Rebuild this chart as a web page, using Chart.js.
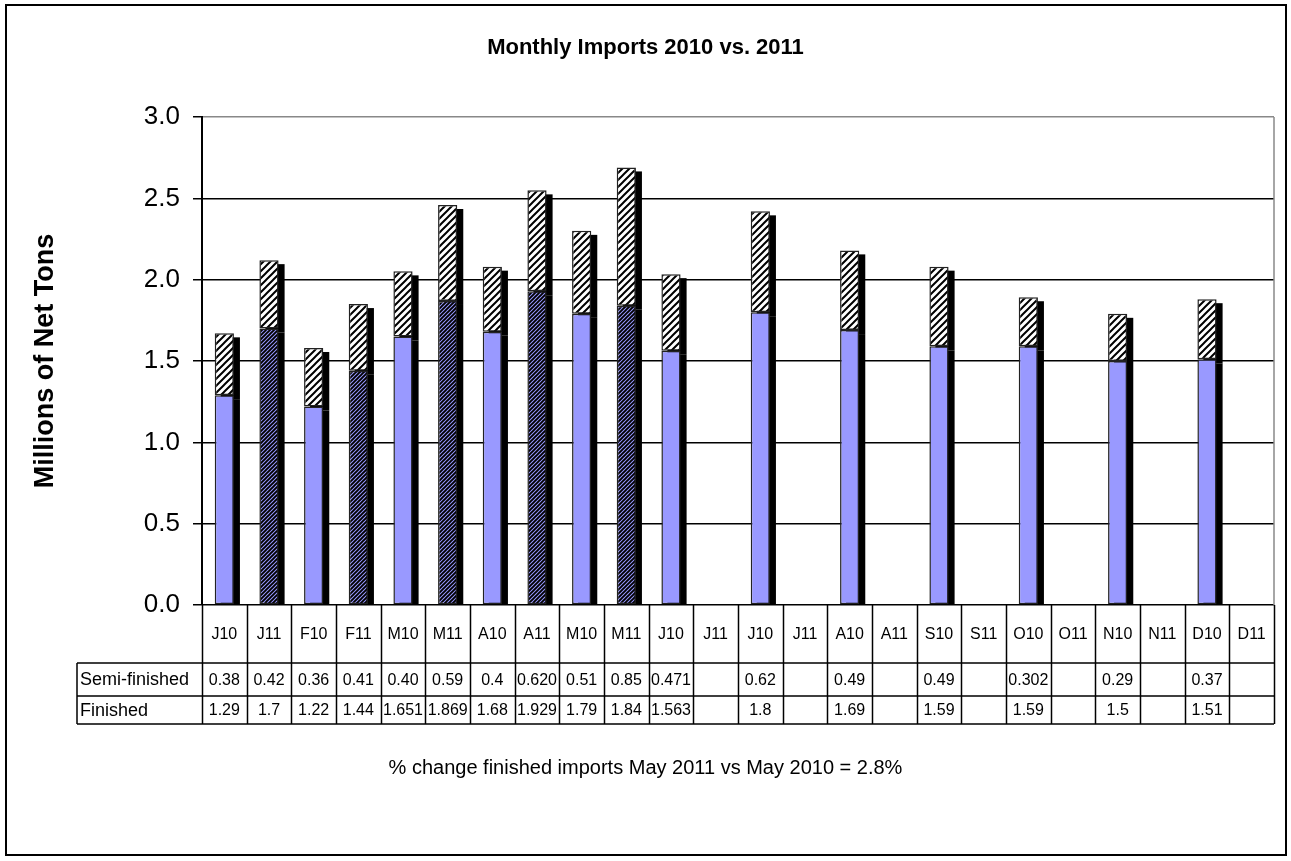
<!DOCTYPE html>
<html>
<head>
<meta charset="utf-8">
<title>Monthly Imports 2010 vs. 2011</title>
<script src="https://cdn.jsdelivr.net/npm/chart.js@4.4.0/dist/chart.umd.min.js"></script>
<style>
  body { margin: 0; background: #fff; }
</style>
</head>
<body>
<canvas id="myChart" width="1291" height="861"></canvas>
<script>
// Month columns, 2010 and 2011 side by side
var categories = ["J10", "J11", "F10", "F11", "M10", "M11", "A10", "A11", "M10", "M11", "J10", "J11",
                  "J10", "J11", "A10", "A11", "S10", "S11", "O10", "O11", "N10", "N11", "D10", "D11"];

// Values as printed in the data table (blank = no data yet)
var semiFinished = ["0.38", "0.42", "0.36", "0.41", "0.40", "0.59", "0.4", "0.620", "0.51", "0.85", "0.471", "",
                    "0.62", "", "0.49", "", "0.49", "", "0.302", "", "0.29", "", "0.37", ""];
var finished = ["1.29", "1.7", "1.22", "1.44", "1.651", "1.869", "1.68", "1.929", "1.79", "1.84", "1.563", "",
                "1.8", "", "1.69", "", "1.59", "", "1.59", "", "1.5", "", "1.51", ""];

var rowNames = ["Semi-finished", "Finished"];

var yMin = 0;
var yMax = 3;
var yStep = 0.5;

var chartTitle = "Monthly Imports 2010 vs. 2011";
var yTitle = "Millions of Net Tons";
var footNote = "% change finished imports May 2011 vs May 2010 = 2.8%";

function toNum(s) {
  return s === "" ? null : parseFloat(s);
}

Chart.defaults.font.family = "'Liberation Sans', Arial, sans-serif";
Chart.defaults.color = "#000";

// hatch patterns
function makeHatch(size, bg, fg, lw) {
  var c = document.createElement("canvas");
  c.width = size;
  c.height = size;
  var g = c.getContext("2d");
  g.fillStyle = bg;
  g.fillRect(0, 0, size, size);
  g.strokeStyle = fg;
  g.lineWidth = lw;
  g.beginPath();
  g.moveTo(-size, size * 2); g.lineTo(size * 2, -size);
  g.moveTo(-size, size); g.lineTo(size, -size);
  g.moveTo(0, size * 2); g.lineTo(size * 2, 0);
  g.stroke();
  return g.createPattern(c, "repeat");
}

var semiHatch = makeHatch(7, "#ffffff", "#000000", 2);
var darkHatch = makeHatch(4, "#9999FF", "#000000", 1.9);

var finishedColors = categories.map(function(c) {
  return c.slice(-2) === "11" ? darkHatch : "#9999FF";
});

// black drop shadow behind every bar
var shadowPlugin = {
  id: "barShadow",
  beforeDatasetsDraw: function(chart) {
    var ctx = chart.ctx, area = chart.chartArea;
    ctx.save();
    ctx.beginPath();
    ctx.rect(area.left, area.top, area.right - area.left, area.bottom - area.top);
    ctx.clip();
    ctx.fillStyle = "#000";
    chart.data.datasets.forEach(function(ds, i) {
      chart.getDatasetMeta(i).data.forEach(function(bar, j) {
        if (ds.data[j] == null) return;
        var p = bar.getProps(["x", "y", "base", "width"], true);
        ctx.fillRect(p.x - p.width / 2 + 6, Math.min(p.y, p.base) + 4, p.width, Math.abs(p.base - p.y));
      });
    });
    ctx.restore();
  }
};

// data table under the x axis + outer frame
var tablePlugin = {
  id: "dataTable",
  afterDraw: function(chart) {
    var ctx = chart.ctx, xs = chart.scales.x, area = chart.chartArea;
    var colW = (xs.right - xs.left) / categories.length;
    var top = area.bottom, r1 = top + 58, r2 = r1 + 33, r3 = r2 + 28;
    var labelLeft = 77;

    ctx.save();
    // plot border (grey)
    ctx.strokeStyle = "#888";
    ctx.lineWidth = 1.5;
    ctx.beginPath();
    ctx.moveTo(area.right, area.top);
    ctx.lineTo(area.right, area.bottom);
    ctx.stroke();

    ctx.strokeStyle = "#000";
    ctx.lineWidth = 1.5;
    ctx.beginPath();
    for (var k = 0; k <= categories.length; k++) {
      var lx = Math.round(xs.left + k * colW) + 0.5;
      ctx.moveTo(lx, top);
      ctx.lineTo(lx, r3);
    }
    ctx.moveTo(labelLeft, r1); ctx.lineTo(xs.right, r1);
    ctx.moveTo(labelLeft, r2); ctx.lineTo(xs.right, r2);
    ctx.moveTo(labelLeft, r3); ctx.lineTo(xs.right, r3);
    ctx.moveTo(labelLeft, r1); ctx.lineTo(labelLeft, r3);
    ctx.stroke();

    ctx.fillStyle = "#000";
    ctx.textBaseline = "middle";
    ctx.font = "18px 'Liberation Sans', Arial, sans-serif";
    ctx.textAlign = "left";
    ctx.fillText(rowNames[0], labelLeft + 3, (r1 + r2) / 2 + 1);
    ctx.fillText(rowNames[1], labelLeft + 3, (r2 + r3) / 2 + 1);

    ctx.font = "16px 'Liberation Sans', Arial, sans-serif";
    ctx.textAlign = "center";
    for (var i = 0; i < categories.length; i++) {
      var cx = xs.getPixelForValue(i);
      ctx.fillText(semiFinished[i], cx, (r1 + r2) / 2 + 1);
      ctx.fillText(finished[i], cx, (r2 + r3) / 2 + 1);
    }

    // outer frame
    ctx.lineWidth = 2;
    ctx.strokeRect(6, 5, 1280, 850);
    ctx.restore();
  }
};

var ctx = document.getElementById("myChart");

var myChart = new Chart(ctx, {
  type: "bar",
  data: {
    labels: categories,
    datasets: [
      {
        label: rowNames[1],
        data: finished.map(toNum),
        backgroundColor: finishedColors,
        borderColor: "#222",
        borderWidth: 1.5,
        borderSkipped: false,
        barPercentage: 0.43,
        categoryPercentage: 1
      },
      {
        label: rowNames[0],
        data: semiFinished.map(toNum),
        backgroundColor: semiHatch,
        borderColor: "#222",
        borderWidth: 1.5,
        borderSkipped: false,
        barPercentage: 0.43,
        categoryPercentage: 1
      }
    ]
  },
  options: {
    responsive: false,
    animation: false,
    layout: { padding: { left: 17, right: 17, top: 0, bottom: 0 } },
    plugins: {
      legend: { display: false },
      tooltip: { enabled: false },
      title: {
        display: true,
        text: chartTitle,
        color: "#000",
        font: { size: 22, weight: "bold" },
        padding: { top: 34.8, bottom: 55.8 }
      },
      subtitle: {
        display: true,
        position: "bottom",
        text: footNote,
        color: "#000",
        font: { size: 20, weight: "normal" },
        padding: { top: 32, bottom: 81 }
      }
    },
    scales: {
      x: {
        stacked: true,
        grid: { display: false, drawTicks: false },
        border: { display: false },
        ticks: { color: "#000", font: { size: 16 }, padding: 20, maxRotation: 0, autoSkip: false },
        afterFit: function(s) { s.height = 119; }
      },
      y: {
        stacked: true,
        min: yMin,
        max: yMax,
        ticks: {
          stepSize: yStep,
          color: "#000",
          font: { size: 26 },
          padding: 13,
          callback: function(v) { return v.toFixed(1); }
        },
        grid: {
          color: function(c) { return c.tick && c.tick.value === yMax ? "#888" : "#000"; },
          tickColor: "#000",
          lineWidth: 1.5,
          tickLength: 9
        },
        border: { color: "#000", width: 2 },
        title: {
          display: true,
          text: yTitle,
          color: "#000",
          font: { size: 27, weight: "bold" },
          padding: { top: 12, bottom: 0 }
        },
        afterFit: function(s) { s.width = 185; }
      }
    }
  },
  plugins: [shadowPlugin, tablePlugin]
});
</script>
</body>
</html>
